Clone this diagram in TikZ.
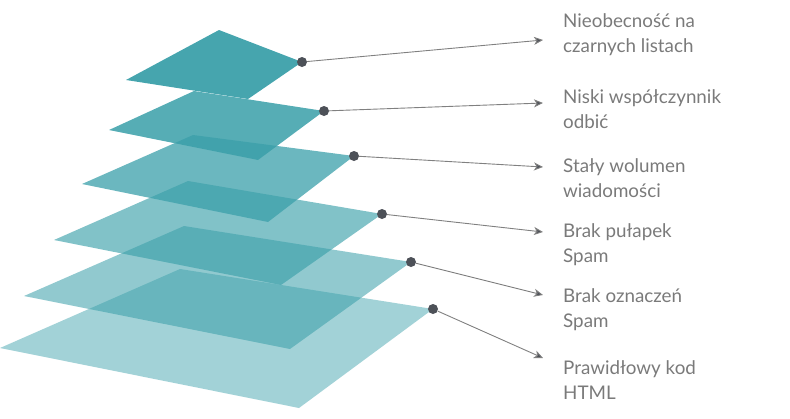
\documentclass[tikz,border=0pt]{standalone}
\usepackage{fontspec}
\setmainfont{Lato}
\usepackage{xcolor}
\usetikzlibrary{positioning,arrows.meta}

\definecolor{teal}{HTML}{3A9FA9}
\definecolor{dotgray}{HTML}{4D5158}
\definecolor{linegray}{HTML}{808080}
\definecolor{txtgray}{HTML}{7A7A7A}

\begin{document}
\begin{tikzpicture}[
    x=1pt, y=-1pt,
    layer/.style={fill=teal, draw=none},
    dot/.style={circle, fill=dotgray, minimum size=10pt, inner sep=0pt},
    fl/.style={draw=linegray, line width=0.9pt, -{Stealth[length=9pt, width=8pt, inset=2.5pt, fill=dotgray]}},
    lb/.style={anchor=base west, align=left, inner sep=0pt, text=txtgray, font=\fontsize{18.8}{25}\selectfont},
]
    \useasboundingbox (0,0) rectangle (790,418);
    \fill[layer, fill opacity=0.47] (180,269) -- (433,309) -- (299,408) -- (0,348) -- cycle;
    \fill[layer, fill opacity=0.56] (184,226) -- (411,262) -- (290,349) -- (24,296) -- cycle;
    \fill[layer, fill opacity=0.64] (188,181) -- (382,214) -- (281,285) -- (54,240) -- cycle;
    \fill[layer, fill opacity=0.75] (193,135) -- (354,156) -- (268,222) -- (82,184) -- cycle;
    \fill[layer, fill opacity=0.86] (194,91) -- (324,111) -- (258,160) -- (109,130) -- cycle;
    \fill[layer, fill opacity=0.94] (219,30) -- (302,62) -- (248,99) -- (126,80) -- cycle;
    \node[dot] (d1) at (302,62) {};
    \node[dot] (d2) at (324,111) {};
    \node[dot] (d3) at (354,156) {};
    \node[dot] (d4) at (382,214) {};
    \node[dot] (d5) at (411,262) {};
    \node[dot] (d6) at (433,309) {};
    \node[lb] (l1) at (563,52) {Nieobecność na\\czarnych listach};
    \node[lb] (l2) at (563,128) {Niski współczynnik\\odbić};
    \node[lb] (l3) at (563,197) {Stały wolumen\\wiadomości};
    \node[lb] (l4) at (563,262) {Brak pułapek\\Spam};
    \node[lb] (l5) at (563,327) {Brak oznaczeń\\Spam};
    \node[lb] (l6) at (563,399) {Prawidłowy kod\\HTML};
    \coordinate (t1) at (543,40);
    \coordinate (t2) at (543,103);
    \coordinate (t3) at (543,167);
    \coordinate (t4) at (543,232);
    \coordinate (t5) at (543,295);
    \coordinate (t6) at (543,358);
    \draw[fl] (d1) -- (t1);
    \draw[fl] (d2) -- (t2);
    \draw[fl] (d3) -- (t3);
    \draw[fl] (d4) -- (t4);
    \draw[fl] (d5) -- (t5);
    \draw[fl] (d6) -- (t6);
\end{tikzpicture}
\end{document}
